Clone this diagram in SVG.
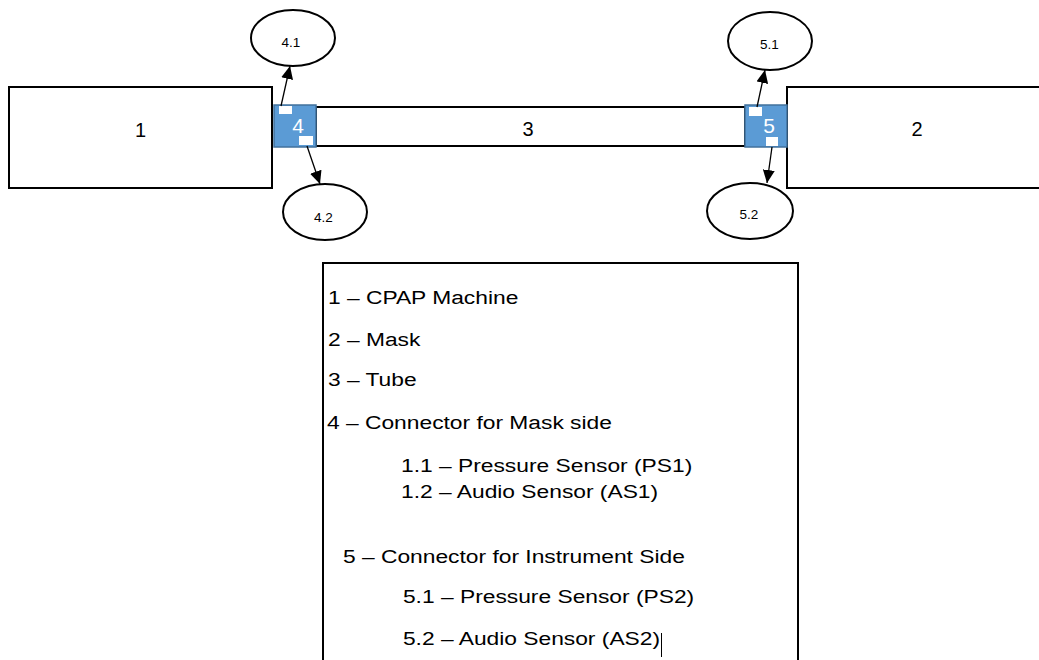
<svg xmlns="http://www.w3.org/2000/svg" width="1039" height="660" viewBox="0 0 1039 660">
<style>
.box{fill:#fff;stroke:#000;stroke-width:2}
.conn{fill:#5B9BD5;stroke:#41719C;stroke-width:1.5}
.pad{fill:#fff;stroke:none}
.ell{fill:#fff;stroke:#000;stroke-width:2}
.lbl{font-family:"Liberation Sans",Arial,sans-serif;font-size:20px;fill:#000;text-anchor:middle}
.wl{font-family:"Liberation Sans",Arial,sans-serif;font-size:21px;fill:#fff;text-anchor:middle}
.sm{font-family:"Liberation Sans",Arial,sans-serif;font-size:13.5px;fill:#000;text-anchor:middle}
.leg{font-family:"Liberation Sans",Arial,sans-serif;font-size:19px;fill:#000}
.arr{stroke:#000;stroke-width:1.3;fill:none;marker-end:url(#ah)}
</style>
<defs>
<marker id="ah" markerUnits="userSpaceOnUse" markerWidth="14" markerHeight="12" refX="13" refY="6" orient="auto">
<path d="M0,0 L13,6 L0,12 Z" fill="#000"/>
</marker>
</defs>
<rect width="1039" height="660" fill="#fff"/>
<g id="node1"><rect class="box" x="9" y="87" width="263" height="101"/><text class="lbl" x="140.5" y="137">1</text></g>
<g id="node2"><rect class="box" x="787" y="87" width="260" height="101"/><text class="lbl" x="917" y="136">2</text></g>
<g id="node3"><rect class="box" x="316" y="107" width="429" height="39"/><text class="lbl" x="528" y="136">3</text></g>
<g id="node4"><rect class="conn" x="274" y="105" width="42" height="42"/><rect class="pad" x="279" y="106" width="13" height="8"/><rect class="pad" x="299" y="136" width="14" height="9"/><text class="wl" x="298" y="133">4</text></g>
<g id="node5"><rect class="conn" x="745" y="105" width="42" height="42"/><rect class="pad" x="749" y="107" width="13" height="9"/><rect class="pad" x="766" y="137" width="12" height="9"/><text class="wl" x="769" y="133">5</text></g>
<g id="node41"><ellipse class="ell" cx="293" cy="38" rx="42" ry="28"/><text class="sm" x="291" y="47">4.1</text></g>
<g id="node42"><ellipse class="ell" cx="325" cy="212" rx="42" ry="28"/><text class="sm" x="323.5" y="222">4.2</text></g>
<g id="node51"><ellipse class="ell" cx="770" cy="41" rx="42" ry="29"/><text class="sm" x="769.5" y="49">5.1</text></g>
<g id="node52"><ellipse class="ell" cx="750" cy="211" rx="43" ry="28"/><text class="sm" x="749" y="219">5.2</text></g>
<g id="connectors">
<line class="arr" x1="281" y1="106" x2="290" y2="66"/>
<line class="arr" x1="307" y1="146" x2="320" y2="184"/>
<line class="arr" x1="757" y1="107" x2="765" y2="70"/>
<line class="arr" x1="772" y1="147" x2="767" y2="183"/>
</g>
<g id="legend">
<rect class="box" x="323" y="263" width="475" height="420"/>
<g transform="scale(1.2,1)">
<text class="leg" x="273.3" y="304">1 – CPAP Machine</text>
<text class="leg" x="273.3" y="346">2 – Mask</text>
<text class="leg" x="273.3" y="386">3 – Tube</text>
<text class="leg" x="272.5" y="429">4 – Connector for Mask side</text>
<text class="leg" x="334.2" y="472">1.1 – Pressure Sensor (PS1)</text>
<text class="leg" x="334.2" y="498">1.2 – Audio Sensor (AS1)</text>
<text class="leg" x="285.8" y="563">5 – Connector for Instrument Side</text>
<text class="leg" x="335.8" y="603">5.1 – Pressure Sensor (PS2)</text>
<text class="leg" x="335.8" y="645">5.2 – Audio Sensor (AS2)</text>
</g>
<line x1="661.5" y1="633" x2="661.5" y2="657" stroke="#000" stroke-width="1"/>
</g>
</svg>
